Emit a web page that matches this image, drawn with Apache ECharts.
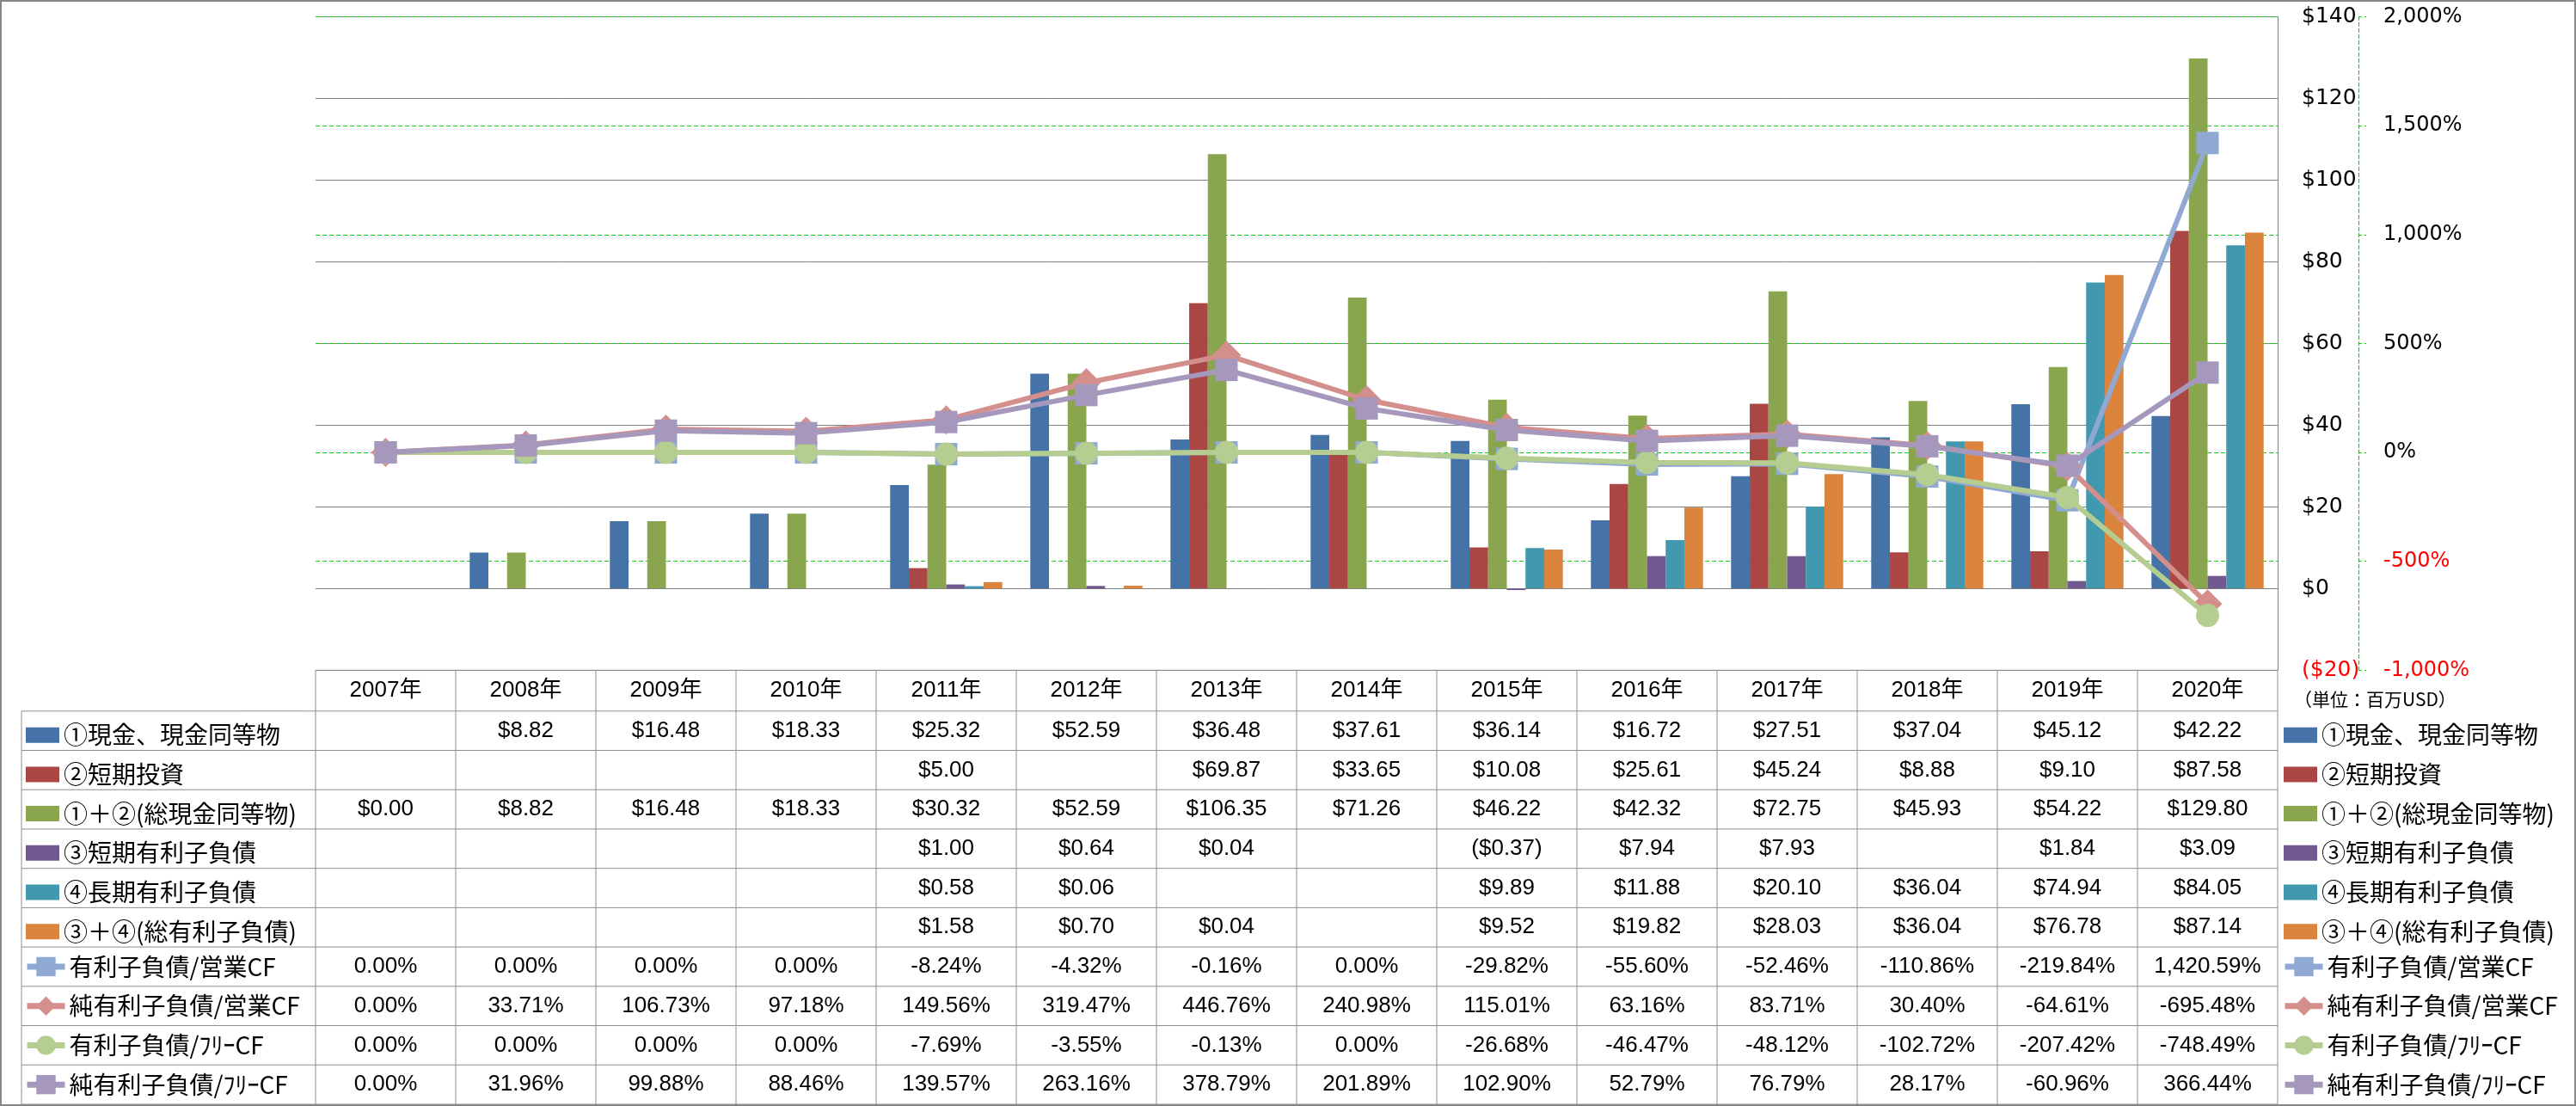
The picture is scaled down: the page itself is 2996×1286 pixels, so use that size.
<!DOCTYPE html>
<html><head><meta charset="utf-8">
<script src="https://cdn.jsdelivr.net/npm/echarts@6/dist/echarts.min.js"></script>
<style>html,body{margin:0;padding:0;background:#fff}#c{width:2996px;height:1286px}</style>
</head><body><div id="c"></div>
<script>
// ---- data ----
const years = ['2007年','2008年','2009年','2010年','2011年','2012年','2013年','2014年','2015年','2016年','2017年','2018年','2019年','2020年'];
const barNames = ['①現金、現金同等物','②短期投資','①＋②(総現金同等物)','③短期有利子負債','④長期有利子負債','③＋④(総有利子負債)'];
const lineNames = ['有利子負債/営業CF','純有利子負債/営業CF','有利子負債/ﾌﾘｰCF','純有利子負債/ﾌﾘｰCF'];
const cash      = [null, 8.82, 16.48, 18.33, 25.32, 52.59, 36.48, 37.61, 36.14, 16.72, 27.51, 37.04, 45.12, 42.22];
const stInvest  = [null, null, null, null, 5.00, null, 69.87, 33.65, 10.08, 25.61, 45.24, 8.88, 9.10, 87.58];
const totalCash = [0.00, 8.82, 16.48, 18.33, 30.32, 52.59, 106.35, 71.26, 46.22, 42.32, 72.75, 45.93, 54.22, 129.80];
const stDebt    = [null, null, null, null, 1.00, 0.64, 0.04, null, -0.37, 7.94, 7.93, null, 1.84, 3.09];
const ltDebt    = [null, null, null, null, 0.58, 0.06, null, null, 9.89, 11.88, 20.10, 36.04, 74.94, 84.05];
const totalDebt = [null, null, null, null, 1.58, 0.70, 0.04, null, 9.52, 19.82, 28.03, 36.04, 76.78, 87.14];
const debtOpCF    = [0.00, 0.00, 0.00, 0.00, -8.24, -4.32, -0.16, 0.00, -29.82, -55.60, -52.46, -110.86, -219.84, 1420.59];
const netDebtOpCF = [0.00, 33.71, 106.73, 97.18, 149.56, 319.47, 446.76, 240.98, 115.01, 63.16, 83.71, 30.40, -64.61, -695.48];
const debtFCF     = [0.00, 0.00, 0.00, 0.00, -7.69, -3.55, -0.13, 0.00, -26.68, -46.47, -48.12, -102.72, -207.42, -748.49];
const netDebtFCF  = [0.00, 31.96, 99.88, 88.46, 139.57, 263.16, 378.79, 201.89, 102.90, 52.79, 76.79, 28.17, -60.96, 366.44];
const unitLabel = '（単位：百万USD）';

const barData = [cash, stInvest, totalCash, stDebt, ltDebt, totalDebt];
const lineData = [debtOpCF, netDebtOpCF, debtFCF, netDebtFCF];
const barColors = ['#4572A7','#AA4643','#89A54E','#71588F','#4198AF','#DB843D'];
const lineColors = ['#8FA9D3','#D48F8D','#B6CD92','#A697BD'];
const lineSymbols = ['rect','diamond','circle','rect'];
const lineSymbolSizes = [26, 34, 27, 26];

// ---- layout ----
const GRID_TOP = 19.5, GRID_BOTTOM_Y = 779.3, GRID_LEFT = 367, GRID_RIGHT_X = 2649;
const HEADER_H = 47.5, TABLE_BOTTOM = 1284, TABLE_LEFT = 25;
const ROW_H = (TABLE_BOTTOM - GRID_BOTTOM_Y - HEADER_H) / 10;
const rowCenter = k => GRID_BOTTOM_Y + HEADER_H + ROW_H * k + ROW_H / 2;

function fmtMoney(v) {
  if (v == null) return '';
  const s = Math.abs(v).toFixed(2);
  return v < 0 ? '($' + s + ')' : '$' + s;
}
function fmtPct(v) {
  if (v == null) return '';
  return v.toLocaleString('en-US', {minimumFractionDigits: 2, maximumFractionDigits: 2}) + '%';
}

// one legend per table row, on both sides
function mkLegend(left, name, isBar, rowIdx) {
  const ih = isBar ? 18 : 28;
  const o = {
    orient: 'vertical', left: left, top: rowCenter(rowIdx) - ih / 2, padding: 0,
    itemWidth: isBar ? 39 : 44, itemHeight: ih, itemGap: 0,
    selectedMode: false,
    data: [name],
    textStyle: {fontFamily: '"Noto Sans CJK JP", sans-serif', fontSize: 28, color: '#000',
      lineHeight: ih, height: ih, padding: 0}
  };
  if (isBar) o.icon = 'rect';
  else o.lineStyle = {width: 7};
  return o;
}
const legends = [];
barNames.forEach((n, i) => { legends.push(mkLegend(30, n, true, i)); legends.push(mkLegend(2656, n, true, i)); });
lineNames.forEach((n, i) => { legends.push(mkLegend(28, n, false, i + 6)); legends.push(mkLegend(2654, n, false, i + 6)); });

const series = [];
barNames.forEach((n, i) => series.push({
  name: n, type: 'bar', yAxisIndex: 0, data: barData[i],
  barGap: '0%', barCategoryGap: '20%',
  itemStyle: {color: barColors[i]}
}));
lineNames.forEach((n, i) => series.push({
  name: n, type: 'line', yAxisIndex: 1, data: lineData[i],
  symbol: lineSymbols[i], symbolSize: lineSymbolSizes[i], showAllSymbol: true,
  lineStyle: {width: 6, color: lineColors[i]},
  itemStyle: {color: lineColors[i]},
  z: 3 + i
}));

const chart = echarts.init(document.getElementById('c'));
chart.setOption({
  animation: false,
  backgroundColor: '#fff',
  grid: {left: GRID_LEFT, right: 2996 - GRID_RIGHT_X, top: GRID_TOP, bottom: 1286 - GRID_BOTTOM_Y},
  xAxis: {
    type: 'category', data: years, position: 'bottom',
    axisLine: {show: false}, axisTick: {show: false}, axisLabel: {show: false}
  },
  yAxis: [{
    type: 'value', position: 'right', min: -20, max: 140, interval: 20,
    axisLine: {show: true, lineStyle: {color: '#808080', width: 1}},
    axisTick: {show: false},
    splitLine: {show: true, lineStyle: {color: '#808080', width: 1}},
    axisLabel: {
      margin: 28, align: 'left', fontFamily: '"DejaVu Sans"', fontSize: 25,
      color: v => (v < 0 ? '#FF0000' : '#000000'),
      formatter: v => (v < 0 ? '($' + Math.abs(v) + ')' : '$' + v)
    }
  }, {
    type: 'value', position: 'right', offset: 94, min: -1000, max: 2000, interval: 500,
    axisLine: {show: true, lineStyle: {color: '#00DD00', width: 1.2, type: [4, 3]}},
    axisTick: {show: true, length: 9, lineStyle: {color: '#00DD00', width: 1.2, type: [4, 3]}},
    splitLine: {show: true, lineStyle: {color: '#00DD00', width: 1.2, type: [5, 3]}},
    axisLabel: {
      margin: 29, align: 'left', fontFamily: '"DejaVu Sans"', fontSize: 24,
      color: v => (v < 0 ? '#FF0000' : '#000000'),
      formatter: v => v.toLocaleString('en-US') + '%'
    }
  }],
  legend: legends,
  series: series
});

// ---- data table, positioned from the chart's own axes ----
const c0 = chart.convertToPixel({xAxisIndex: 0}, years[0]);
const c1 = chart.convertToPixel({xAxisIndex: 0}, years[1]);
const bw = c1 - c0;
const tableTop = chart.convertToPixel({yAxisIndex: 0}, -20);
const headerBottom = tableTop + HEADER_H;
const colLeft = c0 - bw / 2;
const colRight = chart.convertToPixel({xAxisIndex: 0}, years[years.length - 1]) + bw / 2;
const LINE = {stroke: '#8E8E8E', lineWidth: 1};
const g = [];
g.push({type: 'rect', silent: true, shape: {x: 1, y: 1, width: 2994, height: 1284}, style: {fill: null, stroke: '#878787', lineWidth: 2}});
g.push({type: 'line', silent: true, shape: {x1: colLeft, y1: tableTop, x2: colRight, y2: tableTop}, style: LINE});
for (let k = 0; k <= 10; k++) {
  const y = headerBottom + ROW_H * k;
  g.push({type: 'line', silent: true, shape: {x1: TABLE_LEFT, y1: y, x2: colRight, y2: y}, style: LINE});
}
g.push({type: 'line', silent: true, shape: {x1: TABLE_LEFT, y1: headerBottom, x2: TABLE_LEFT, y2: headerBottom + ROW_H * 10}, style: LINE});
for (let i = 0; i <= years.length; i++) {
  const x = colLeft + bw * i;
  g.push({type: 'line', silent: true, shape: {x1: x, y1: tableTop, x2: x, y2: headerBottom + ROW_H * 10}, style: LINE});
}
const cellFont = '26px "Liberation Sans", "Noto Sans CJK JP", sans-serif';
function cellText(t, x, y) {
  return {type: 'text', silent: true, x: x, y: y,
    style: {text: t, font: cellFont, fill: '#000', align: 'center', verticalAlign: 'middle', textAlign: 'center', textVerticalAlign: 'middle'}};
}
years.forEach((yr, i) => {
  const cx = chart.convertToPixel({xAxisIndex: 0}, yr);
  g.push(cellText(yr, cx, tableTop + HEADER_H / 2));
  barData.forEach((arr, k) => g.push(cellText(fmtMoney(arr[i]), cx, headerBottom + ROW_H * k + ROW_H / 2)));
  lineData.forEach((arr, k) => g.push(cellText(fmtPct(arr[i]), cx, headerBottom + ROW_H * (k + 6) + ROW_H / 2)));
});
g.push({type: 'text', silent: true, x: 2668, y: 813,
  style: {text: unitLabel, font: '21px "Noto Sans CJK JP", sans-serif', fill: '#000', align: 'left', verticalAlign: 'middle', textAlign: 'left', textVerticalAlign: 'middle'}});
chart.setOption({graphic: g});
</script>
</body></html>
